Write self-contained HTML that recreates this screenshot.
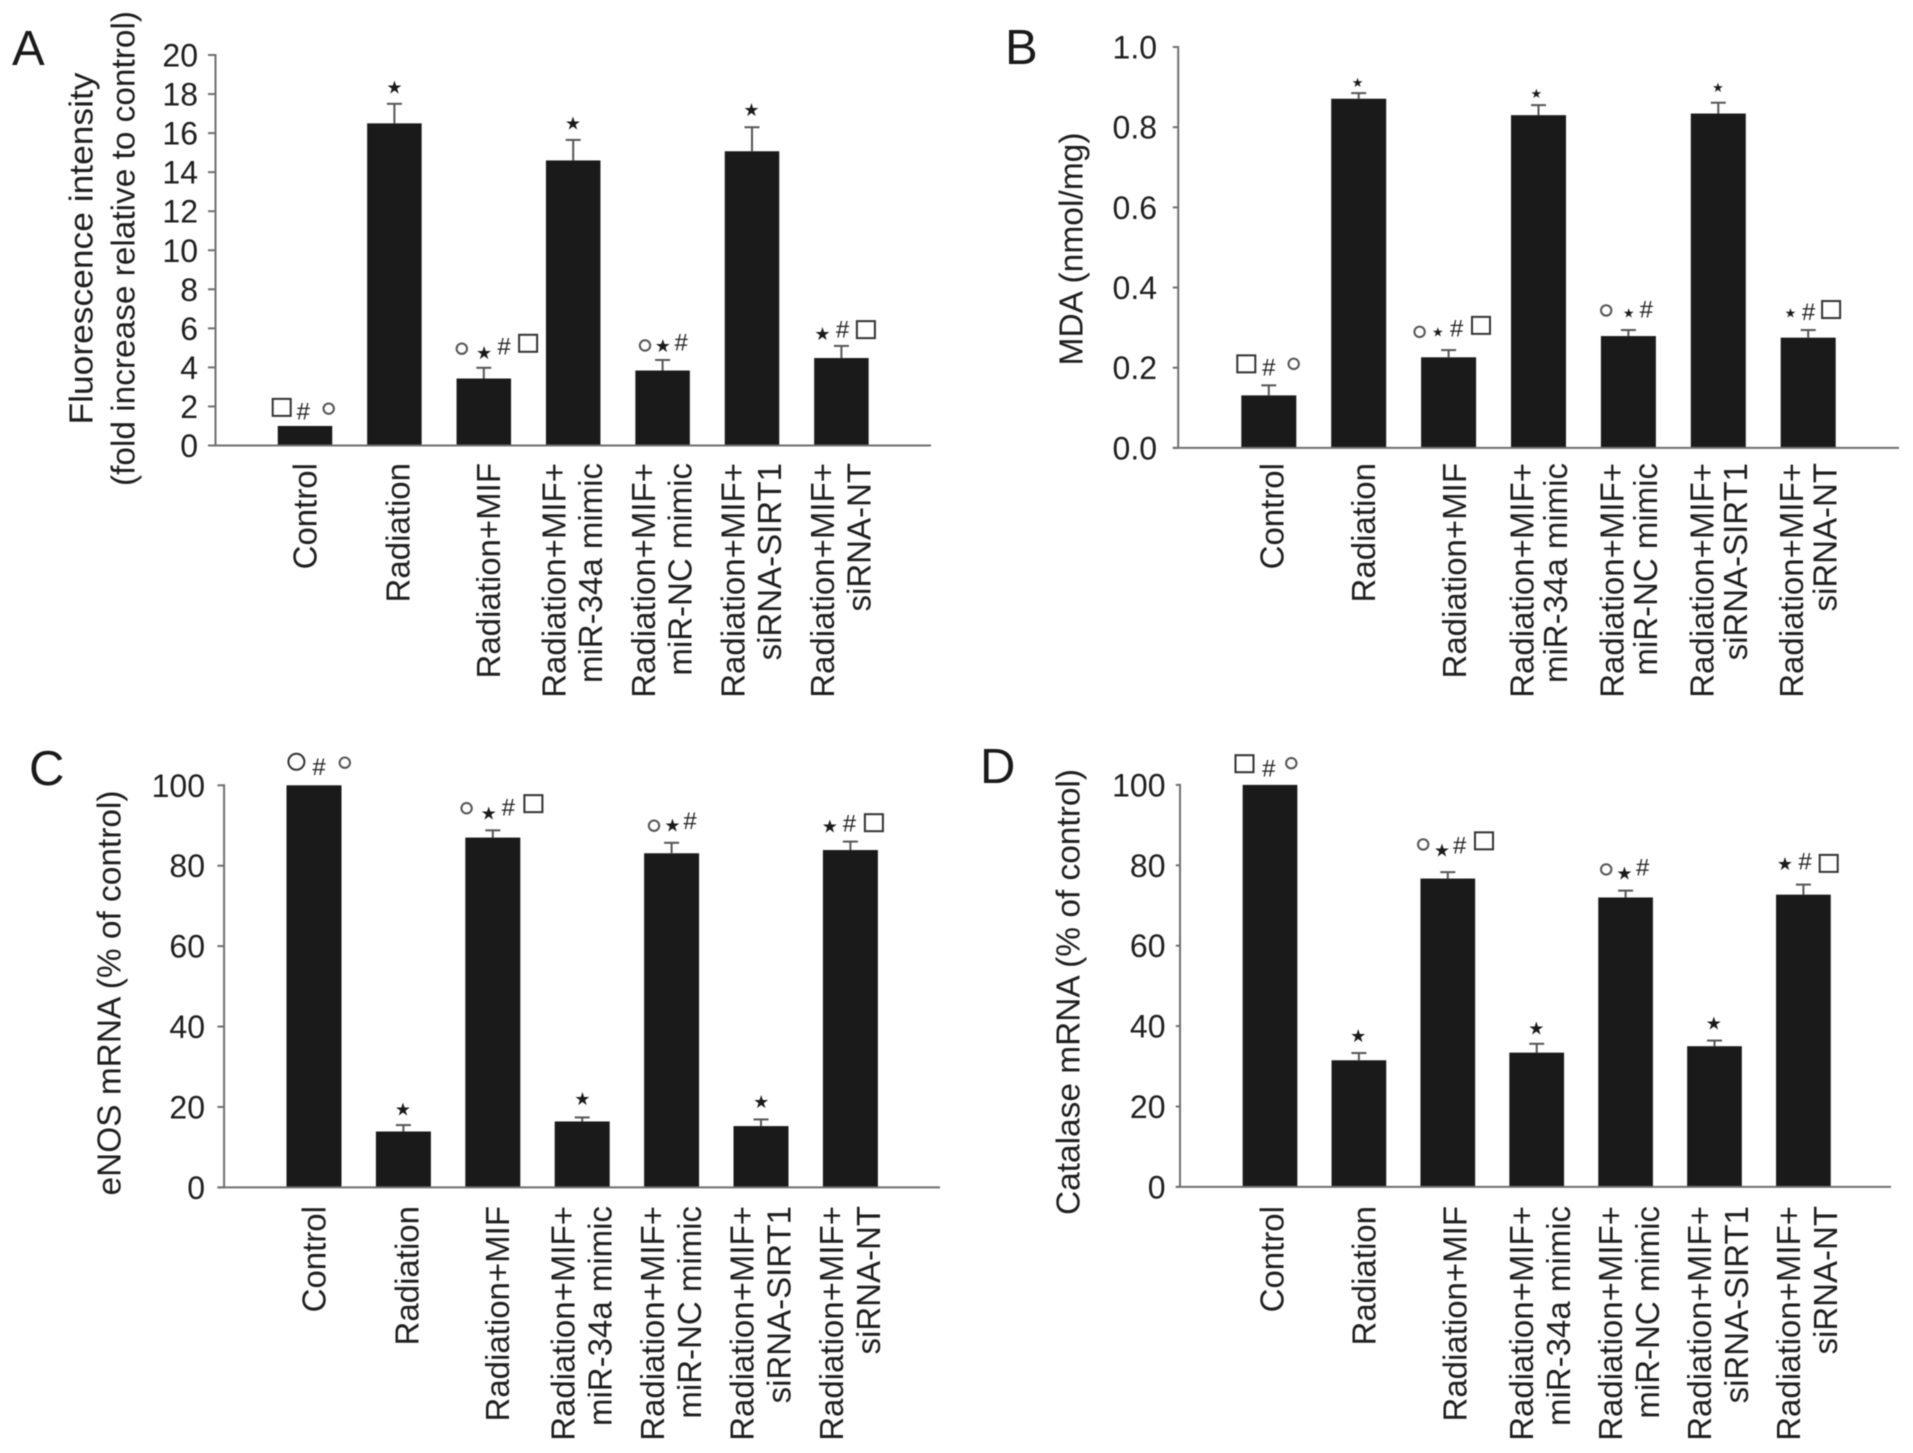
<!DOCTYPE html>
<html lang="en">
<head>
<meta charset="utf-8">
<title>Bar chart panels A to D</title>
<style>
html,body{margin:0;padding:0;background:#fff;}
#figure{display:block;width:1913px;height:1453px;filter:blur(0.6px);}
text{font-family:"Liberation Sans",Arial,sans-serif;fill:#1f1f1f;}
.tick{font-size:32px;}
.cat{font-size:33px;}
.title{font-size:33px;}
.letter{font-size:49px;fill:#1a1a1a;}
.hash{font-size:24px;fill:#222;}
.star{font-family:"DejaVu Sans",sans-serif;fill:#1a1a1a;}
</style>
</head>
<body>
<svg id="figure" xmlns="http://www.w3.org/2000/svg" width="1913" height="1453" viewBox="0 0 1913 1453">
  <rect x="0" y="0" width="1913" height="1453" fill="#ffffff"/>
  <g id="panel-a"></g>
  <g id="panel-b"></g>
  <g id="panel-c"></g>
  <g id="panel-d"></g>
</svg>
<script>
const categories = ["Control", "Radiation", "Radiation+MIF", "Radiation+MIF+|miR-34a mimic", "Radiation+MIF+|miR-NC mimic", "Radiation+MIF+|siRNA-SIRT1", "Radiation+MIF+|siRNA-NT"];

const fluorescenceValues = [1.0, 16.5, 3.43, 14.6, 3.84, 15.07, 4.48];
const fluorescenceErrors = [0, 1.0, 0.55, 1.05, 0.54, 1.23, 0.62];
const fluorescenceTicks = ["0", "2", "4", "6", "8", "10", "12", "14", "16", "18", "20"];

const mdaValues = [0.131, 0.871, 0.226, 0.830, 0.279, 0.834, 0.275];
const mdaErrors = [0.025, 0.014, 0.018, 0.025, 0.015, 0.027, 0.019];
const mdaTicks = ["0.0", "0.2", "0.4", "0.6", "0.8", "1.0"];

const enosValues = [100, 13.9, 87.0, 16.4, 83.1, 15.25, 83.9];
const enosErrors = [0, 1.6, 1.8, 1.0, 2.6, 1.65, 2.1];
const enosTicks = ["0", "20", "40", "60", "80", "100"];

const catalaseValues = [100, 31.5, 76.7, 33.4, 72.0, 35.0, 72.7];
const catalaseErrors = [0, 1.8, 1.6, 2.2, 1.7, 1.4, 2.5];
const catalaseTicks = ["0", "20", "40", "60", "80", "100"];

/* Annotation symbols per bar: symbol type, then offset from the bar centre and error-bar top. */
const annotationsA = [
  [["square",-23.3,-18.6],["hash",-1.7,-14.3],["circle",23.7,-17.3]],
  [["star",0,-16.8]],
  [["circle",-22,-19.1],["star",0.3,-15.1],["hash",20.3,-21.1],["square",44.3,-24.5]],
  [["star",-0.3,-16.8]],
  [["circle",-17.6,-14.5],["star",0.2,-14.5],["hash",18.6,-17.7]],
  [["star",-0.5,-17.7]],
  [["star",-19,-12.6],["hash",1.2,-16.3],["square",24.5,-16.3]]
];
const annotationsB = [
  [["square",-22.5,-21.5],["hash",0,-17.7],["circle",24.9,-21.5]],
  [["star",-1.1,-10.7]],
  [["circle",-29,-18.2],["star",-10.8,-18.2],["hash",8.1,-21.4],["square",32.4,-24.7]],
  [["star",-2.2,-11.6]],
  [["circle",-22.2,-19.6],["star",0.3,-17.3],["hash",17.9,-20.5]],
  [["star",-0.3,-15.4]],
  [["star",-17.8,-17.3],["hash",0.4,-18.2],["square",22.9,-20.5]]
];
const annotationsC = [
  [["bigcircle",-17.6,-23.5],["hash",5,-18.4],["circle",30.8,-22.6]],
  [["star",-0.5,-16.1]],
  [["circle",-26.2,-22.1],["star",-4.1,-17.5],["hash",15.5,-23],["square",40.6,-26.7]],
  [["star",0.2,-18.9]],
  [["circle",-17.6,-17.1],["star",0.8,-18],["hash",18.5,-21.7]],
  [["star",0.2,-18]],
  [["star",-20.6,-15.7],["hash",-1,-18],["square",23.5,-18.9]]
];
const annotationsD = [
  [["square",-25.5,-21.2],["hash",-1.2,-16.6],["circle",21.3,-21.7]],
  [["star",-0.7,-17.5]],
  [["circle",-24.6,-27.7],["star",-5.8,-22.1],["hash",11.9,-26.7],["square",36.2,-31.3]],
  [["star",-0.4,-15.7]],
  [["circle",-19.4,-21.2],["star",-1.2,-17.5],["hash",17.1,-23]],
  [["star",-0.7,-17.5]],
  [["star",-18.5,-21.2],["hash",1.6,-23],["square",25.3,-21.2]]
];

const NS = "http://www.w3.org/2000/svg";

function make(parent, tag, attrs, content) {
  const el = document.createElementNS(NS, tag);
  for (const key in attrs) el.setAttribute(key, attrs[key]);
  if (content !== undefined) el.textContent = content;
  parent.appendChild(el);
  return el;
}

function slug(s) {
  return s.toLowerCase().replace(/[^a-z0-9]+/g, "-").replace(/^-|-$/g, "");
}

function drawAnnotation(g, kind, x, y, starSize, barName) {
  let el;
  if (kind === "square") {
    el = make(g, "rect", {x: x - 9, y: y - 8.5, width: 18, height: 17, fill: "none", stroke: "#333", "stroke-width": 2});
    
  } else if (kind === "circle") {
    el = make(g, "circle", {cx: x, cy: y, r: 5.2, fill: "none", stroke: "#555", "stroke-width": 2});
    
  } else if (kind === "bigcircle") {
    el = make(g, "circle", {cx: x, cy: y, r: 8, fill: "none", stroke: "#333", "stroke-width": 2});
    
  } else if (kind === "hash") {
    el = make(g, "text", {x: x, y: y + 8, "text-anchor": "middle", class: "hash"}, "#");
    
  } else {
    el = make(g, "text", {x: x, y: y + starSize * 0.36, "text-anchor": "middle", class: "star", "font-size": starSize}, "\u2605");
    
  }
  
}

function drawPanel(cfg) {
  const g = document.getElementById(cfg.id);
  const maxTick = parseFloat(cfg.ticks[cfg.ticks.length - 1]);
  const yScale = v => cfg.y0 - (v / maxTick) * (cfg.y0 - cfg.yTop);
  const xScale = i => cfg.firstX + i * cfg.stepX;

  const letter = make(g, "text", {x: cfg.letterX, y: cfg.letterY, class: "letter"}, cfg.letter);
  
  

  const titleGroup = make(g, "g", {});
  
  
  cfg.title.forEach(function (line, i) {
    const px = cfg.titleX[i];
    const t = make(titleGroup, "text", {
      x: 0, y: 0, class: "title", "text-anchor": "middle",
      transform: "translate(" + (px + 11.5) + "," + cfg.titleY + ") rotate(-90)",
      textLength: cfg.titleLen[i], lengthAdjust: "spacingAndGlyphs"
    }, line);
    
    
  });

  cfg.ticks.forEach(function (label) {
    const v = parseFloat(label);
    const y = yScale(v);
    const mark = make(g, "line", {x1: cfg.tickX, x2: cfg.axisX, y1: y, y2: y, stroke: "#6f6f6f", "stroke-width": 2});
    
    
    const text = make(g, "text", {x: cfg.labelX, y: y + 11.5, "text-anchor": "end", class: "tick"}, label);
    
    
  });

  cfg.values.forEach(function (value, i) {
    const cx = xScale(i);
    const top = yScale(value);
    const barName = slug(categories[i]);

    const bar = make(g, "rect", {x: cx - cfg.barW / 2, y: top, width: cfg.barW, height: cfg.y0 - top, fill: "#1a1a1a"});
    
    

    const errTop = yScale(value + cfg.errors[i]);
    if (cfg.errors[i] > 0) {
      const stem = make(g, "line", {x1: cx, x2: cx, y1: top, y2: errTop, stroke: "#555", "stroke-width": 2});
      
      
      const cap = make(g, "line", {x1: cx - 7.5, x2: cx + 7.5, y1: errTop, y2: errTop, stroke: "#555", "stroke-width": 2});
      
      
    }

    cfg.annotations[i].forEach(function (a) {
      drawAnnotation(g, a[0], cx + a[1], errTop + a[2], cfg.starSize, barName);
    });

    const lines = categories[i].split("|");
    lines.forEach(function (line, j) {
      let lx = cx + (cfg.singleDx[i] || 0);
      if (lines.length === 2) lx = cx + cfg.lineDx[j];
      const t = make(g, "text", {
        x: 0, y: 0, class: "cat", "text-anchor": "end",
        transform: "translate(" + (lx + 11.5) + "," + cfg.catY + ") rotate(-90)"
      }, line);
      
      
    });
  });

  const yAxis = make(g, "line", {x1: cfg.axisX, x2: cfg.axisX, y1: cfg.yTop - 1, y2: cfg.y0, stroke: "#6f6f6f", "stroke-width": 2});
  
  
  const xAxis = make(g, "line", {x1: cfg.tickX, x2: cfg.xEnd, y1: cfg.y0, y2: cfg.y0, stroke: "#6f6f6f", "stroke-width": 2});
  
  
}

drawPanel({
  id: "panel-a", letter: "A", letterX: 12, letterY: 65,
  values: fluorescenceValues, errors: fluorescenceErrors, ticks: fluorescenceTicks, annotations: annotationsA,
  y0: 445.5, yTop: 55, axisX: 215.5, tickX: 208, labelX: 198, xEnd: 931,
  firstX: 305, stepX: 89.4, barW: 54.5, catY: 463, singleDx: [0, 3.5, 4.5], lineDx: [-19, 17.5],
  title: ["Fluorescence intensity", "(fold increase relative to control)"], titleX: [81, 123], titleLen: [352, 475], titleY: 248.5,
  starSize: 18
});
drawPanel({
  id: "panel-b", letter: "B", letterX: 1005, letterY: 64,
  values: mdaValues, errors: mdaErrors, ticks: mdaTicks, annotations: annotationsB,
  y0: 447.9, yTop: 47, axisX: 1178.2, tickX: 1172.8, labelX: 1157, xEnd: 1899,
  firstX: 1268.8, stepX: 89.9, barW: 55, catY: 463, singleDx: [3, 5, 6], lineDx: [-16.5, 17],
  title: ["MDA (nmol/mg)"], titleX: [1071], titleLen: [233], titleY: 249,
  starSize: 13
});
drawPanel({
  id: "panel-c", letter: "C", letterX: 29, letterY: 785,
  values: enosValues, errors: enosErrors, ticks: enosTicks, annotations: annotationsC,
  y0: 1187.4, yTop: 785.3, axisX: 224.1, tickX: 217.4, labelX: 205, xEnd: 940,
  firstX: 314, stepX: 89.4, barW: 55, catY: 1206, singleDx: [0, 3.8, 4.5], lineDx: [-19, 18],
  title: ["eNOS mRNA (% of control)"], titleX: [109], titleLen: [405], titleY: 993,
  starSize: 18
});
drawPanel({
  id: "panel-d", letter: "D", letterX: 980, letterY: 783,
  values: catalaseValues, errors: catalaseErrors, ticks: catalaseTicks, annotations: annotationsD,
  y0: 1186.9, yTop: 784.9, axisX: 1180, tickX: 1175.8, labelX: 1165.5, xEnd: 1891,
  firstX: 1270, stepX: 88.9, barW: 54.7, catY: 1206, singleDx: [2, 5, 7], lineDx: [-15, 22],
  title: ["Catalase mRNA (% of control)"], titleX: [1068], titleLen: [446], titleY: 992,
  starSize: 18
});
</script>
</body>
</html>
